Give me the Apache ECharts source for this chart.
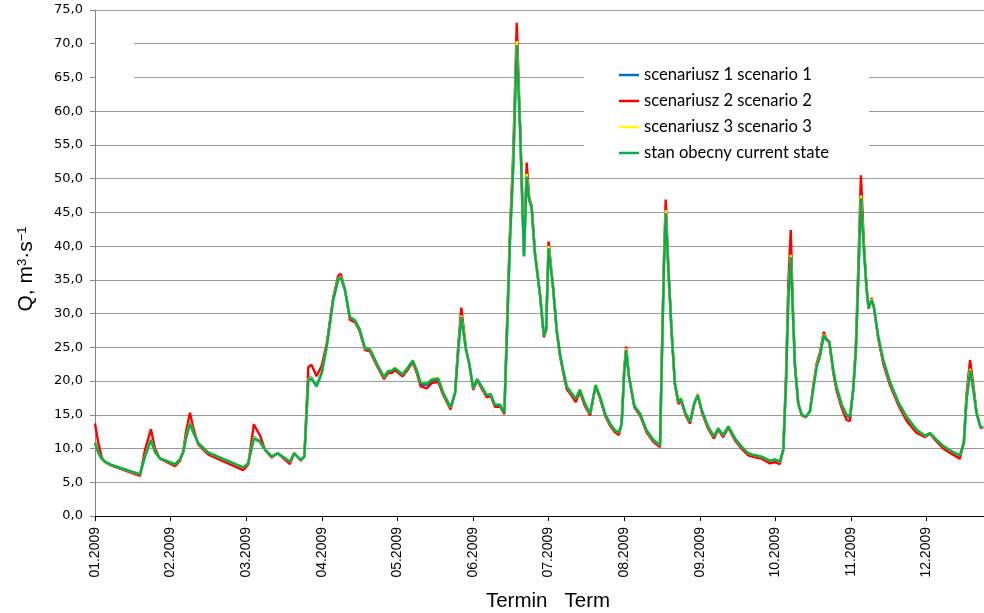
<!DOCTYPE html>
<html>
<head>
<meta charset="utf-8">
<script src="https://cdn.jsdelivr.net/npm/echarts@6/dist/echarts.min.js"></script>
<style>
html,body{margin:0;padding:0;background:#fff;}
#chart{width:984px;height:613px;}
</style>
</head>
<body>
<div id="chart"></div>
<script>
// x positions in days from 1 Jan 2009 (month ticks evenly spaced every 30.4 days)
const dayPos = [
 0,1.3,2.7,4.0,6.7,18.1,20.1,22.5,24.1,26.1,
 32.2,34.2,35.5,36.6,38.2,39.4,41.5,45.6,59.6,61.6,
 63.9,65.3,66.3,68.4,71.1,73.5,78.4,80.1,82.8,84.2,
 85.8,87.1,89.1,91.2,93.2,95.8,97.8,98.8,100.5,102.5,
 104.6,106.3,108.6,110.6,113.3,116.2,117.9,119.3,120.6,123.7,
 125.6,127.8,129.4,131.0,133.4,135.4,138.0,140.1,143.0,144.8,
 146.1,147.3,149.2,150.5,152.1,153.7,155.5,157.5,159.1,160.8,
 162.9,164.6,165.6,166.9,168.2,169.6,170.9,172.5,173.6,174.6,
 175.6,176.9,178.9,180.5,181.4,182.4,183.2,184.3,185.7,187.0,
 188.3,189.7,191.7,193.3,195.0,197.0,199.1,201.3,203.1,205.1,
 207.1,209.1,210.7,211.8,212.8,213.6,214.7,216.9,219.2,221.8,
 224.5,227.2,227.9,228.8,229.5,230.5,231.9,233.2,234.6,235.6,
 237.5,239.3,241.0,242.4,244.0,246.6,248.9,250.6,252.6,254.7,
 257.4,260.0,262.7,265.4,268.1,271.4,273.4,275.4,276.8,277.9,
 278.8,279.8,280.6,281.5,282.8,284.2,285.9,287.5,288.8,290.2,
 291.5,293.1,293.9,295.3,296.9,298.2,300.3,302.3,303.6,304.9,
 306.0,306.9,308.0,309.2,310.3,311.1,312.3,313.2,315.0,317.0,
 319.7,323.0,326.4,330.4,333.8,335.8,338.5,341.1,344.5,347.8,
 349.4,350.5,351.9,353.2,354.5,356.1,357.2
];
const scenario1 = [
 11.0,9.5,8.5,8.0,7.5,6.15,8.9,11.4,9.6,8.5,
 7.65,8.4,9.5,11.6,13.9,12.6,10.8,9.35,7.15,7.8,
 11.7,11.3,11.1,9.8,8.8,9.3,8.0,9.3,8.3,8.8,
 20.5,20.5,19.3,21.3,25.2,32.1,35.1,35.5,33.5,29.4,
 28.9,27.7,24.8,24.6,22.5,20.5,21.4,21.4,21.8,20.9,
 21.8,23.0,21.5,19.5,19.4,20.0,20.2,18.1,16.0,18.2,
 24.8,29.7,24.6,22.6,18.8,20.2,19.1,17.8,18.0,16.4,
 16.4,15.2,26.3,41.1,52.1,70.1,57.8,38.5,50.5,46.9,
 45.7,38.9,33.0,26.7,27.6,39.8,40.0,33.5,27.4,23.9,
 21.5,19.1,18.1,17.3,18.6,16.6,15.1,19.4,17.6,15.1,
 13.6,12.6,12.3,13.7,21.2,24.7,20.7,16.2,15.1,12.6,
 11.2,10.4,22.3,37.2,45.1,37.1,27.1,19.6,16.8,17.3,
 15.1,13.9,16.7,17.9,15.6,13.1,11.7,12.9,11.9,13.2,
 11.4,10.2,9.2,8.9,8.7,8.1,8.3,7.95,9.8,19.9,
 32.3,38.6,30.6,22.1,16.7,15.0,14.7,15.5,18.8,22.2,
 23.7,26.9,26.2,25.8,21.5,19.0,16.3,14.8,14.6,18.7,
 24.8,34.8,47.4,39.5,33.5,30.8,32.0,31.0,26.5,23.0,
 19.8,16.8,14.5,12.7,11.8,12.3,11.2,10.3,9.5,8.9,
 10.9,17.4,21.8,18.8,15.2,13.2,13.1
];
const scenario2 = [
 13.7,10.9,8.7,8.0,7.45,5.93,9.8,12.85,10.0,8.5,
 7.4,8.2,9.6,12.5,15.3,13.2,10.6,9.1,6.8,7.6,
 13.6,12.6,12.0,9.8,8.65,9.3,7.7,9.3,8.2,8.9,
 22.1,22.4,20.7,22.3,25.6,32.4,35.6,35.9,33.6,29.1,
 28.7,27.5,24.6,24.4,22.3,20.3,21.2,21.2,21.6,20.7,
 21.6,22.8,21.2,19.2,18.9,19.7,19.9,17.9,15.8,18.3,
 25.5,30.9,24.8,22.5,18.7,20.1,18.9,17.6,17.8,16.2,
 16.2,15.1,27.5,42.5,54.0,73.1,58.5,38.8,52.4,47.2,
 46.0,39.2,33.0,26.5,27.5,40.7,40.6,33.6,27.3,23.7,
 21.2,18.8,17.8,16.9,18.4,16.3,14.9,19.3,17.4,14.9,
 13.4,12.4,12.0,13.8,21.8,25.1,20.8,16.1,14.9,12.4,
 11.0,10.2,23.0,38.5,46.9,37.5,27.2,19.5,16.6,17.2,
 14.9,13.7,16.6,18.1,15.4,12.9,11.5,12.8,11.7,13.1,
 11.2,10.0,9.0,8.7,8.5,7.8,8.0,7.7,9.9,21.0,
 34.5,42.4,31.5,22.4,16.7,14.9,14.6,15.6,19.2,22.6,
 24.2,27.3,26.4,25.8,21.2,18.6,16.0,14.2,14.1,18.8,
 25.5,36.5,50.5,40.5,33.8,30.7,32.3,31.0,26.2,22.6,
 19.4,16.5,14.1,12.3,11.7,12.2,11.0,10.0,9.2,8.5,
 11.0,18.2,23.1,19.5,15.4,13.1,13.0
];
const scenario3 = [
 10.9,9.4,8.5,8.06,7.56,6.18,8.8,11.3,9.5,8.55,
 7.7,8.4,9.5,11.6,13.8,12.5,10.8,9.4,7.2,7.8,
 11.6,11.2,11.0,9.8,8.8,9.3,8.06,9.3,8.3,8.8,
 20.3,20.4,19.2,21.2,25.1,32.0,35.1,35.5,33.5,29.5,
 29.0,27.8,24.9,24.7,22.6,20.6,21.5,21.6,22.0,21.0,
 21.9,23.1,21.6,19.8,19.7,20.3,20.5,18.2,16.1,18.2,
 24.7,29.7,24.6,22.6,18.9,20.3,19.2,17.9,18.1,16.5,
 16.5,15.3,26.3,41.2,52.2,70.4,57.8,38.5,50.7,46.9,
 45.7,38.9,33.0,26.8,27.6,40.0,40.1,33.5,27.5,24.0,
 21.6,19.2,18.2,17.4,18.8,16.7,15.2,19.5,17.7,15.2,
 13.7,12.7,12.4,13.7,21.2,24.8,20.7,16.3,15.2,12.7,
 11.3,10.5,22.3,37.3,45.3,37.1,27.1,19.7,16.9,17.5,
 15.2,14.0,16.7,18.0,15.7,13.2,11.8,13.0,12.0,13.3,
 11.5,10.3,9.3,9.0,8.8,8.2,8.4,8.05,9.8,19.9,
 32.3,38.7,30.6,22.1,16.7,15.0,14.7,15.5,18.7,22.2,
 23.7,26.9,26.2,25.8,21.6,19.2,16.5,15.0,14.8,18.7,
 24.8,34.8,47.5,39.5,33.5,30.8,32.1,31.0,26.6,23.1,
 19.9,16.9,14.7,12.8,11.9,12.3,11.3,10.4,9.6,9.0,
 10.8,17.4,21.8,18.8,15.2,13.2,13.1
];
const currentState = [
 10.8,9.4,8.5,8.06,7.56,6.18,8.8,11.2,9.5,8.55,
 7.7,8.4,9.5,11.5,13.7,12.5,10.8,9.4,7.2,7.8,
 11.5,11.2,11.0,9.8,8.8,9.3,8.06,9.3,8.3,8.8,
 20.2,20.3,19.2,21.2,25.1,32.0,35.0,35.4,33.5,29.5,
 29.0,27.8,24.9,24.7,22.6,20.6,21.5,21.5,21.9,21.0,
 21.9,23.0,21.6,19.7,19.6,20.2,20.4,18.2,16.1,18.2,
 24.6,29.5,24.6,22.6,18.9,20.3,19.2,17.9,18.1,16.5,
 16.5,15.3,26.1,40.9,51.8,69.8,57.7,38.5,50.3,46.8,
 45.6,38.9,33.0,26.8,27.6,39.7,39.9,33.5,27.5,24.0,
 21.6,19.2,18.2,17.4,18.7,16.7,15.2,19.4,17.7,15.2,
 13.7,12.7,12.4,13.7,21.1,24.6,20.7,16.3,15.2,12.7,
 11.3,10.5,22.1,37.0,44.9,37.0,27.1,19.7,16.9,17.4,
 15.2,14.0,16.7,17.9,15.7,13.2,11.8,13.0,12.0,13.3,
 11.5,10.3,9.3,9.0,8.8,8.2,8.4,8.05,9.8,19.7,
 32.0,38.4,30.5,22.1,16.7,15.0,14.7,15.5,18.7,22.1,
 23.6,26.8,26.2,25.8,21.6,19.2,16.5,15.0,14.8,18.7,
 24.6,34.5,47.1,39.4,33.5,30.8,32.0,31.0,26.6,23.1,
 19.9,16.9,14.7,12.8,11.9,12.3,11.3,10.4,9.6,9.0,
 10.8,17.2,21.6,18.7,15.2,13.2,13.1
];
const monthLabels = ['01.2009','02.2009','03.2009','04.2009','05.2009','06.2009',
                     '07.2009','08.2009','09.2009','10.2009','11.2009','12.2009'];
const seriesNames = ['scenariusz 1 scenario 1','scenariusz 2 scenario 2',
                     'scenariusz 3 scenario 3','stan obecny current state'];
const seriesColors = ['#0070C0','#FF0000','#FFFF00','#00B050'];
const monthStep = 30.4;
const xMax = 357.5;
const yMin = 0, yMax = 75, yStep = 5;

const allValues = [scenario1, scenario2, scenario3, currentState];
const chart = echarts.init(document.getElementById('chart'), null, {renderer:'canvas'});

const option = {
  animation: false,
  backgroundColor: '#fff',
  grid: {left: 95, right: 0, top: 10, bottom: 97, containLabel: false},
  xAxis: {
    type: 'value', min: 0, max: xMax, interval: monthStep,
    axisLine: {show: true, lineStyle: {color: '#000', width: 1}},
    axisTick: {show: true, length: 5, lineStyle: {color: '#000'}},
    splitLine: {show: false},
    axisLabel: {
      rotate: 90, margin: 11, color: '#000',
      fontFamily: 'Liberation Sans', fontSize: 14,
      formatter: function (v) {
        const i = Math.round(v / monthStep);
        return (i >= 0 && i < monthLabels.length && Math.abs(v - i*monthStep) < 0.01) ? monthLabels[i] : '';
      }
    }
  },
  yAxis: {
    type: 'value', min: yMin, max: yMax, interval: yStep,
    axisLine: {show: true, lineStyle: {color: '#868686', width: 1}},
    axisTick: {show: true, length: 5, lineStyle: {color: '#868686'}},
    splitLine: {show: true, lineStyle: {color: '#9a9a9a', width: 1}},
    axisLabel: {
      margin: 12, color: '#000', fontFamily: 'DejaVu Sans', fontSize: 13,
      formatter: function (v) { return v.toFixed(1).replace('.', ','); }
    }
  },
  legend: {
    orient: 'vertical', left: 584, top: 58,
    padding: [8, 40, 8, 35],
    icon: 'rect',
    itemWidth: 20, itemHeight: 2.5, itemGap: 8,
    backgroundColor: '#fff',
    data: seriesNames,
    textStyle: {fontFamily: 'Lato', fontSize: 16.6, color: '#000', lineHeight: 18}
  },
  graphic: [
    {type: 'rect', left: 96, top: 30, shape: {width: 38, height: 68}, style: {fill: '#fff'}, z: 1},
    {type: 'text', x: 26, y: 269, rotation: Math.PI / 2,
      style: {
        text: '{a|Q, m}{s|3}{a|·s}{s|−1}',
        align: 'center', verticalAlign: 'middle',
        fill: '#000',
        rich: {
          a: {fontFamily: 'Liberation Sans', fontSize: 21, fill: '#000', color: '#000'},
          s: {fontFamily: 'Liberation Sans', fontSize: 13, verticalAlign: 'top', fill: '#000', color: '#000'}
        }
      }
    },
    {type: 'text', x: 548, y: 601,
      style: {text: 'Termin   Term', fontFamily: 'Liberation Sans', fontSize: 20.5,
              fill: '#000', align: 'center', verticalAlign: 'middle'}}
  ],
  series: seriesNames.map(function (name, k) {
    return {
      name: name, type: 'line', symbol: 'none',
      data: dayPos.map(function (d, i) { return [d, allValues[k][i]]; }),
      lineStyle: {color: seriesColors[k], width: 2.4},
      itemStyle: {color: seriesColors[k]},
      emphasis: {disabled: true}
    };
  })
};
chart.setOption(option);
</script>
</body>
</html>
